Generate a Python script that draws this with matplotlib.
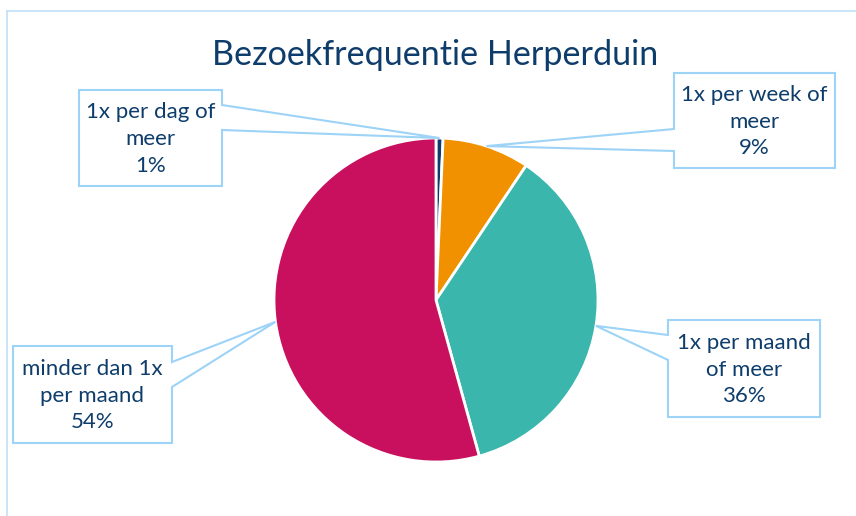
import matplotlib
matplotlib.use("Agg")
import matplotlib.pyplot as plt
from matplotlib.patches import Polygon
import numpy as np

# data
labels = ["1x per dag of\nmeer", "1x per week of\nmeer", "1x per maand\nof meer", "minder dan 1x\nper maand"]
shares = [0.7, 8.7, 36.3, 54.3]
colors = ["#0E3A6E", "#F29100", "#3AB6AD", "#C8105F"]
title = "Bezoekfrequentie Herperduin"

W, H = 856, 516
text_col = "#0E3D6B"
line_col = "#9DD3F7"

# callout boxes in image pixels: x0, y0, x1, y1, pointer side, pointer base y0, y1
boxes = [
    (79, 90, 222, 186, "right", 105, 130),
    (674, 73, 835, 168, "left", 129, 151),
    (668, 320, 820, 417, "left", 335, 360),
    (13, 346, 172, 443, "right", 362, 387),
]

def Y(y):
    return H - y

fig = plt.figure(figsize=(W / 100, H / 100), dpi=100)
ax = fig.add_axes([0, 0, 1, 1])

cx, cy, r = 436, Y(300), 162
wedges, _ = ax.pie(shares, colors=colors, startangle=90, counterclock=False,
                   center=(cx, cy), radius=r,
                   wedgeprops=dict(edgecolor="white", linewidth=2))

ax.set_xlim(0, W)
ax.set_ylim(0, H)
ax.set_aspect("equal")
ax.axis("off")

# outer frame (only top and left visible)
ax.plot([7, 7], [Y(11), Y(516)], color="#BFE0F6", lw=1.2)
ax.plot([7, W], [Y(11), Y(11)], color="#BFE0F6", lw=1.2)

ax.text(435, Y(55), title, ha="center", va="center", fontsize=24.6,
        color=text_col, family="Lato")

for w, lab, val, b in zip(wedges, labels, shares, boxes):
    mid = np.deg2rad((w.theta1 + w.theta2) / 2)
    px, py = cx + r * np.cos(mid), cy + r * np.sin(mid)
    x0, y0, x1, y1, side, b0, b1 = b
    if side == "right":
        pts = [(x0, y0), (x1, y0), (x1, b0), None, (x1, b1), (x1, y1), (x0, y1)]
    else:
        pts = [(x0, y0), (x1, y0), (x1, y1), (x0, y1), (x0, b1), None, (x0, b0)]
    verts = [(px, py) if p is None else (p[0], Y(p[1])) for p in pts]
    ax.add_patch(Polygon(verts, closed=True, facecolor="white",
                         edgecolor=line_col, lw=1.5, zorder=3))
    ax.text((x0 + x1) / 2, Y((y0 + y1) / 2 + 1), f"{lab}\n{round(val)}%",
            ha="center", va="center", multialignment="center",
            fontsize=16, color=text_col, family="Lato", linespacing=1.42,
            zorder=4)

fig.savefig("out.png", dpi=100)
